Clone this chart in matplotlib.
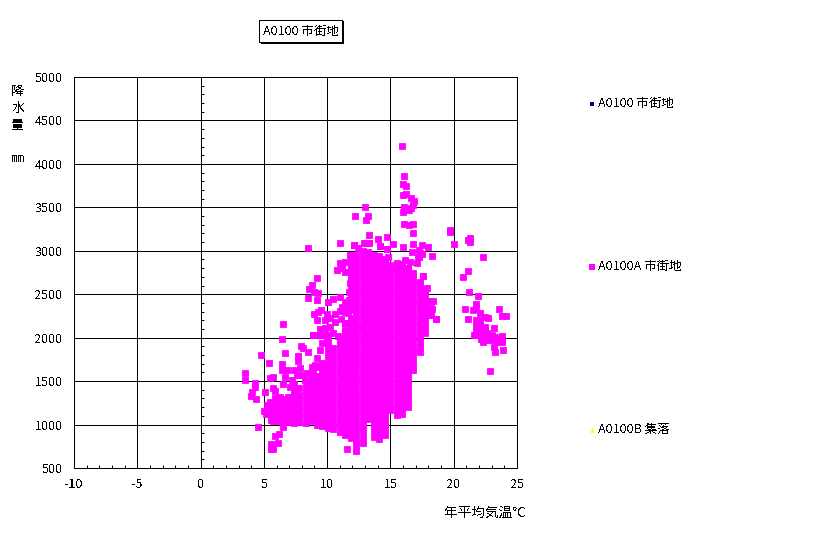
"""Annual mean temperature vs precipitation scatter, A0100 urban mesh."""

import matplotlib
matplotlib.use("Agg")
import matplotlib.pyplot as plt
from matplotlib.patches import Rectangle

plt.rcParams["font.family"] = ["Noto Sans CJK JP", "DejaVu Sans"]
plt.rcParams["axes.unicode_minus"] = False
plt.rcParams["text.antialiased"] = False

TITLE = "A0100 市街地"
SERIES_LABELS = ["A0100 市街地", "A0100A 市街地", "A0100B 集落"]
X_LABEL = "年平均気温℃"
Y_LABEL = "降\n水\n量\n\n㎜"
X_TICKS = [-10, -5, 0, 5, 10, 15, 20, 25]
Y_TICKS = [500, 1000, 1500, 2000, 2500, 3000, 3500, 4000, 4500, 5000]

# nothing of these two series shows above the A0100A points
town_temp = []
town_rain = []
village_temp = []
village_rain = []

# scattered points, read one by one
top_temp = [15.9, 16.06, 15.98, 16.2, 15.98, 16.2, 16.6, 16.85, 16.75, 16.6, 16.06, 16.45, 15.98,
            12.98, 12.2, 13.2, 13.06, 16.06, 16.45, 16.77, 16.77, 13.3, 14.72, 14.0, 11.0, 8.48,
            19.69, 19.69, 21.27, 21.1, 21.27, 20.0, 22.3, 18.27, 17.96, 17.48, 16.77, 15.2, 14.17,
            15.98, 14.72, 13.27, 12.93, 12.1, 17.24, 16.7, 17.48, 17.24, 17.56, 18.59, 18.27, 18.35]
top_rain = [4206, 3861, 3769, 3746, 3642, 3653, 3607, 3573, 3527, 3492, 3504, 3469, 3446,
            3504, 3400, 3400, 3354, 3308, 3297, 3308, 3205, 3182, 3159, 3136, 3090, 3032,
            3239, 3216, 3147, 3124, 3101, 3078, 2929, 2940, 3044, 3067, 3078, 3078, 3055,
            3044, 3021, 3090, 3090, 3067, 3009, 2986, 2963, 2929, 2710, 2215, 2330, 2422]

east_temp = [21.1, 20.7, 21.2, 21.9, 21.75, 20.9, 23.56, 21.1, 23.8, 24.1, 22.86, 23.88, 23.25,
             23.17, 21.54, 21.75, 22.07, 22.46, 22.7, 21.75, 22.07, 21.75, 22.07, 22.46, 21.75,
             22.12, 22.46, 23.17, 21.6, 21.94, 22.33, 22.65, 22.99, 23.25, 22.12, 22.46, 22.28,
             22.73, 23.12, 23.8, 23.8, 23.44, 23.78]
east_rain = [2767, 2698, 2526, 2480, 2388, 2330, 2330, 2215, 2250, 2250, 1616, 1857, 1834,
             1892, 2318, 2340, 2279, 2241, 2222, 2203, 2203, 2145, 2145, 2126, 2088,
             2076, 2076, 2107, 2030, 2030, 2030, 2049, 2030, 2011, 1984, 1984, 1946,
             1973, 1973, 2019, 1973, 1953, 1946]

west_temp = [6.43, 6.5, 8.87, 4.77, 6.66, 7.93, 8.08, 8.48, 7.69, 7.69, 5.4, 6.43, 6.43, 6.82, 7.37,
             7.85, 8.77, 3.48, 3.48, 5.71, 5.48, 6.66, 6.5, 4.29, 4.29, 5.08, 4.06, 3.98, 4.37,
             5.71, 5.87, 4.53, 5.0, 5.14, 5.48, 5.27, 5.71, 6.53, 6.19, 5.87, 6.11, 5.56, 5.56,
             5.71, 11.56]
west_rain = [1984, 2155, 2034, 1800, 1823, 1904, 1881, 1835, 1789, 1731, 1708, 1697, 1628, 1628, 1628,
             1655, 1666, 1589, 1513, 1547, 1536, 1547, 1467, 1474, 1428, 1374, 1374, 1328, 1294,
             1420, 1386, 972, 1156, 1121, 1263, 1225, 1041, 972, 895, 868, 788, 772, 718,
             718, 718]

north_temp = [10.77, 9.19, 8.8, 8.56, 8.95, 9.3, 8.48, 9.19, 10.09, 10.48, 11.0, 11.4, 11.14, 11.0,
              9.51, 8.95, 9.3, 9.22, 9.95, 10.6, 9.82, 10.2, 10.6, 11.08, 11.4, 9.43, 9.82, 10.2,
              8.85, 9.3, 9.69, 10.09, 10.48, 10.88, 11.4, 12.06, 12.45]
north_rain = [2779, 2687, 2606, 2560, 2529, 2518, 2460, 2433, 2414, 2441, 2472, 2414, 2349, 2311,
              2318, 2272, 2299, 2203, 2272, 2272, 2203, 2222, 2184, 2211, 2165, 2100, 2107, 2127,
              2034, 2030, 2030, 2030, 2050, 2019, 2057, 2069, 2127]

# points on the jagged rim of the cloud
rim_temp = [12.11, 12.45, 12.98, 13.3, 11.8, 11.4, 11.0, 11.14, 11.4, 14.17, 14.69, 14.82, 15.48, 16.14,
            16.53, 17.06, 17.59, 17.32, 17.19, 17.85, 18.24, 18.24, 18.24, 18.59, 11.8, 11.74, 11.74,
            11.8, 11.93, 11.66, 7.19, 7.58, 7.98, 8.37, 8.24, 7.06, 6.27, 5.87, 8.5, 8.9, 9.03, 9.21,
            9.43, 9.56, 9.95, 9.16]
rim_rain = [3066, 3028, 3085, 3093, 2951, 2875, 2855, 2798, 2759, 3055, 3016, 2932, 2855, 2894,
            2875, 2855, 2710, 2970, 2932, 2568, 2414, 2326, 2261, 2219, 2625, 2529, 2433,
            2318, 2222, 2280, 1513, 1570, 1570, 1589, 1513, 1436, 1321, 1302, 1493, 1589, 1685, 1762,
            1858, 1935, 2011, 1666]

# dense part of the cloud, one temperature with its rainfall readings
core_temp = [5.6, 6.0, 6.5, 6.9, 7.4, 7.8, 8.3, 8.7, 9.2, 9.6, 10.1, 10.5, 11.0, 11.4, 11.9,
             12.3, 12.8, 13.2, 13.7, 14.1, 14.6, 15.0, 15.5, 15.9, 16.4, 16.8, 17.3, 17.7, 18.0]
core_rain = [
    [1055, 1115, 1180, 1245],
    [1040, 1100, 1165, 1225, 1265],
    [1040, 1100, 1160, 1225, 1290],
    [1035, 1095, 1160, 1220, 1285, 1315],
    [1020, 1085, 1150, 1210, 1275, 1340, 1400, 1470],
    [1025, 1085, 1150, 1215, 1280, 1345, 1415],
    [1020, 1085, 1145, 1210, 1275, 1335, 1400, 1465],
    [1040, 1105, 1165, 1230, 1290, 1355, 1415, 1480, 1520],
    [1000, 1065, 1125, 1190, 1255, 1315, 1380, 1440, 1505, 1560],
    [980, 1045, 1105, 1170, 1235, 1295, 1360, 1420, 1485, 1545, 1610, 1670, 1705],
    [960, 1025, 1085, 1150, 1210, 1275, 1335, 1400, 1460, 1525, 1585, 1650, 1710, 1775, 1835, 1900, 1950],
    [945, 1005, 1070, 1130, 1195, 1255, 1320, 1380, 1445, 1505, 1570, 1630, 1695, 1755, 1820, 1880],
    [920, 985, 1045, 1110, 1170, 1235, 1295, 1360, 1420, 1485, 1545, 1610, 1670, 1735, 1795, 1860, 1920, 1985],
    [880, 945, 1005, 1070, 1130, 1195, 1255, 1320, 1380, 1445, 1505, 1570, 1630, 1695, 1755, 1820, 1880, 1945,
     2005, 2090, 2170, 2290, 2360],
    [840, 905, 965, 1030, 1090, 1155, 1215, 1280, 1340, 1405, 1465, 1530, 1590, 1655, 1715, 1780, 1840, 1905,
     1965, 2030, 2090, 2155, 2215, 2340, 2400, 2465, 2525, 2590, 2650, 2715, 2775, 2840, 2900, 2950],
    [700, 765, 825, 890, 950, 1015, 1075, 1140, 1200, 1265, 1325, 1390, 1450, 1515, 1575, 1640, 1700, 1765,
     1825, 1890, 1950, 2015, 2075, 2140, 2200, 2265, 2325, 2390, 2450, 2515, 2575, 2640, 2700, 2765, 2825, 2890, 2955],
    [785, 850, 910, 975, 1035, 1100, 1160, 1225, 1285, 1350, 1410, 1475, 1535, 1600, 1660, 1725, 1785, 1850,
     1910, 1975, 2035, 2100, 2160, 2225, 2285, 2350, 2410, 2475, 2535, 2600, 2660, 2725, 2785, 2850, 2910, 2975, 3000],
    [1060, 1120, 1185, 1245, 1310, 1370, 1435, 1495, 1560, 1620, 1685, 1745, 1810, 1870, 1935,
     1995, 2060, 2120, 2185, 2245, 2310, 2370, 2435, 2495, 2560, 2620, 2685, 2745, 2810, 2870, 2935, 2990],
    [860, 925, 985, 1050, 1110, 1175, 1235, 1300, 1360, 1425, 1485, 1550, 1610, 1675, 1735, 1800, 1860, 1925,
     1985, 2050, 2110, 2175, 2235, 2300, 2360, 2425, 2485, 2550, 2610, 2675, 2735, 2800, 2860, 2925, 2955],
    [835, 900, 960, 1025, 1085, 1150, 1210, 1275, 1335, 1400, 1460, 1525, 1585, 1650, 1710, 1775, 1835, 1900,
     1960, 2025, 2085, 2150, 2210, 2275, 2335, 2400, 2460, 2525, 2585, 2650, 2710, 2775, 2835, 2900, 2935],
    [880, 945, 1005, 1070, 1130, 1195, 1255, 1320, 1380, 1445, 1505, 1570, 1630, 1695, 1755, 1820, 1880, 1945,
     2005, 2070, 2130, 2195, 2255, 2320, 2380, 2445, 2505, 2570, 2630, 2695, 2755, 2820, 2880, 2905],
    [1170, 1230, 1295, 1355, 1420, 1480, 1545, 1605, 1670, 1730, 1795, 1855, 1920, 1980, 2045,
     2105, 2170, 2230, 2295, 2355, 2420, 2480, 2545, 2605, 2670, 2730, 2795, 2835],
    [1115, 1180, 1240, 1305, 1365, 1430, 1490, 1555, 1615, 1680, 1740, 1805, 1865, 1930, 1990,
     2055, 2115, 2180, 2240, 2305, 2365, 2430, 2490, 2555, 2615, 2680, 2740, 2805, 2840],
    [1125, 1190, 1250, 1315, 1375, 1440, 1500, 1565, 1625, 1690, 1750, 1815, 1875, 1940, 2000,
     2065, 2125, 2190, 2250, 2315, 2375, 2440, 2500, 2565, 2625, 2690, 2750, 2815, 2850],
    [1205, 1265, 1330, 1390, 1455, 1515, 1580, 1640, 1705, 1765, 1830, 1890, 1955, 2015,
     2080, 2140, 2205, 2265, 2330, 2390, 2455, 2515, 2580, 2640, 2705, 2765, 2805],
    [1630, 1695, 1755, 1820, 1880, 1945, 2005, 2070, 2130, 2195, 2255, 2320, 2380, 2445, 2505, 2570, 2630, 2695, 2750],
    [1830, 1895, 1955, 2020, 2080, 2145, 2205, 2270, 2330, 2395, 2455, 2520, 2580, 2645],
    [2050, 2115, 2175, 2240, 2300, 2365, 2425, 2490, 2550],
    [2260, 2325, 2420],
]

urban_temp = top_temp + east_temp + west_temp + north_temp + rim_temp
urban_rain = top_rain + east_rain + west_rain + north_rain + rim_rain
for t, values in zip(core_temp, core_rain):
    urban_temp += [t] * len(values)
    urban_rain += values

W, H = 816, 534
fig = plt.figure(figsize=(W / 100, H / 100), dpi=100)
ax = fig.add_axes([74 / W, 1 - 468 / H, 443 / W, 391 / H])

ax.scatter(town_temp, town_rain, s=19, marker="s", c="#000080", linewidths=0, label=SERIES_LABELS[0])
urban = ax.scatter(urban_temp, urban_rain, s=24, marker="s", c="#ff00ff", linewidths=0, antialiased=False,
                   label=SERIES_LABELS[1], zorder=3)
urban.set_snap(False)
ax.scatter(village_temp, village_rain, s=19, marker="^", c="#ffff00", linewidths=0, label=SERIES_LABELS[2])

ax.set_xlim(-10, 25)
ax.set_ylim(500, 5000)
ax.set_xticks(X_TICKS)
ax.set_yticks(Y_TICKS)
ax.set_xticks(range(-10, 26), minor=True)
ax.grid(True, which="major", color="black", linewidth=0.72, antialiased=False)
ax.set_axisbelow(True)
ax.tick_params(axis="both", which="major", length=0, labelsize=9)
ax.tick_params(axis="x", which="major", pad=7)
ax.tick_params(axis="y", which="major", pad=8)
ax.tick_params(axis="x", which="minor", direction="in", length=2.2, width=0.72)
for spine in ax.spines.values():
    spine.set_linewidth(0.72)
    spine.set_antialiased(False)

# y axis crosses at 0 °C, minor ticks sit on that line
zero_axis = ax.secondary_yaxis(10 / 35)
zero_axis.set_yticks([])
zero_axis.set_yticks(range(500, 5001, 100), minor=True)
zero_axis.tick_params(axis="y", which="minor", direction="in", length=2.2, width=0.72, labelleft=False)
zero_axis.spines["left"].set_linewidth(0.72)

fig.text(526 / W, 1 - 513 / H, X_LABEL, fontsize=9.8, ha="right", va="center")
fig.text(18 / W, 1 - 125 / H, Y_LABEL, fontsize=9.4, ha="center", va="center", linespacing=1.38)

# title box with the drop shadow
fig.add_artist(Rectangle((261 / W, 1 - 44 / H), 83 / W, 23 / H, transform=fig.transFigure,
                         facecolor="black", edgecolor="none", antialiased=False))
fig.add_artist(Rectangle((259 / W, 1 - 42 / H), 83 / W, 22 / H, transform=fig.transFigure,
                         facecolor="white", edgecolor="black", linewidth=0.72, antialiased=False))
fig.text(300.5 / W, 1 - 31.5 / H, TITLE, fontsize=9, ha="center", va="center")

ax.legend(loc="upper left", bbox_to_anchor=(586 / W, 1 - 97 / H), bbox_transform=fig.transFigure,
          frameon=False, fontsize=9, labelspacing=12.0, markerscale=0.8,
          handletextpad=0.0, handlelength=1.0, borderpad=0, borderaxespad=0)

fig.savefig("out.png", dpi=100)
